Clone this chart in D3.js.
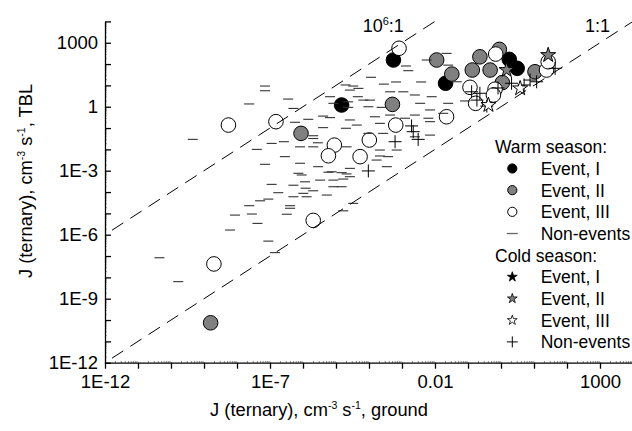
<!DOCTYPE html>
<html>
<head>
<meta charset="utf-8">
<script src="https://cdn.jsdelivr.net/npm/d3@7"></script>
<style>
  body { margin: 0; background: #fff; }
  svg { display: block; font-family: "Liberation Sans", Arial, sans-serif; }
</style>
</head>
<body>
<svg id="chart" width="632" height="431"></svg>
<script>
// all values are log10(J): [ground, TBL]
const warmEventI = [[-3.26, 2.19], [-4.83, 0.08], [-1.68, 1.10], [0.25, 2.22], [0.49, 1.80]];
const warmEventII = [[-6.06, -1.25], [-8.80, -10.13], [-3.29, 0.11], [-1.95, 2.19], [-1.49, 1.53],
  [-0.64, 2.34], [-0.05, 2.69], [-0.33, 1.72], [-0.87, 1.72], [0.04, 1.13], [1.03, 1.64]];
const warmEventIII = [[-8.26, -0.86], [-6.82, -0.70], [-5.05, -1.80], [-5.23, -2.30], [-4.27, -2.34],
  [-8.70, -7.37], [-5.69, -5.33], [-3.09, 2.74], [-3.99, -1.56], [-3.19, -0.86], [-1.65, -0.47],
  [-0.16, 2.47], [-0.18, 0.82], [-0.23, 0.55], [-0.94, 0.91], [-0.77, 0.16], [1.38, 1.72], [1.43, 2.11]];
const warmNonEvents = [
  [-7.15, 0.97], [-7.15, 0.75], [-7.63, 0.13], [-6.45, 0.36], [-6.29, -0.08], [-6.24, -0.73],
  [-5.69, -1.36], [-5.69, -1.49], [-9.34, -1.53], [-5.39, -0.44], [-5.18, -0.51], [-5.39, -0.98],
  [-4.70, -1.01], [-5.55, -1.69], [-6.09, -1.88], [-7.40, -2.00], [-6.95, -1.72], [-6.58, -1.64],
  [-6.55, -2.34], [-7.15, -2.70], [-6.14, -3.12], [-5.23, -3.07], [-4.68, -3.15], [-4.58, -2.89],
  [-4.78, -3.39], [-6.95, -3.64], [-6.29, -3.68], [-5.92, -3.82], [-5.69, -3.94], [-6.75, -4.03],
  [-7.05, -4.33], [-6.29, -4.22], [-4.71, 1.02], [-4.48, 0.97], [-4.58, 0.78], [-4.34, 0.47],
  [-4.37, -0.86], [-2.88, 1.91], [-2.81, 1.69], [-1.65, 2.50], [-2.25, 2.19], [-1.60, 1.95],
  [-1.34, 1.17], [-3.94, 1.38], [-4.32, 0.86], [-5.18, 0.47], [-5.08, 0.16], [-4.63, 0.23],
  [-4.63, -0.03], [-4.17, 0.31], [-3.97, 0.31], [-4.02, 0.00], [-3.62, -0.03], [-3.36, 0.70],
  [-2.96, 0.70], [-2.61, 0.55], [-2.10, 0.47], [-2.45, 0.16], [-2.15, -0.15], [-1.60, 0.16],
  [-1.09, 0.27], [-1.75, -0.31], [-5.84, -0.59], [-4.58, -0.62], [-3.82, -0.47], [-3.67, -0.78],
  [-3.36, -0.39], [-2.91, -0.54], [-2.61, -0.39], [-2.20, -0.54], [-2.15, -0.70], [-4.02, -1.25],
  [-3.57, -1.25], [-5.69, -1.88], [-4.68, -1.88], [-3.67, -2.03], [-2.61, -1.41], [-2.15, -1.33],
  [-6.09, -2.65], [-5.54, -2.81], [-3.77, -2.50], [-3.42, -2.34], [-3.46, -2.81], [-5.94, -3.52],
  [-5.48, -3.44], [-4.58, -3.28], [-4.83, -3.75], [-5.89, -4.22], [-5.28, -4.14], [-3.67, -2.31],
  [-3.16, -2.03], [-5.08, -3.44], [-5.13, -3.05], [-4.83, -3.09], [-5.99, -4.06], [-6.04, -3.20],
  [-10.35, -7.08], [-9.78, -8.20], [-8.21, -5.78], [-8.06, -5.08], [-7.55, -5.03], [-7.63, -4.64],
  [-7.38, -5.47], [-7.30, -4.41], [-7.05, -6.30], [-6.85, -6.84], [-6.49, -5.04], [-6.39, -4.64],
  [-6.39, -4.76], [-5.08, -3.75], [-4.78, -4.88], [-4.48, -4.53], [-3.55, 1.06], [-3.18, 1.16],
  [-2.42, 1.16]];
const coldEventI = [];
const coldEventII = [[0.17, 1.72], [1.43, 2.42]];
const coldEventIII = [[0.58, 0.86], [-0.38, 0.08]];
const coldNonEvents = [[-0.89, 0.70], [-0.64, 0.63], [-0.43, 0.03], [0.32, 1.10], [0.88, 1.25],
  [1.08, 1.17], [1.64, 1.80], [-2.71, -0.90], [-2.66, -1.17], [-2.51, -1.53], [-3.21, -1.64],
  [-4.02, -3.01], [-0.73, 0.31], [-0.09, 0.88], [0.70, 1.02]];

const xTickValues = [1e-12, 1e-7, 1e-2, 1e3];
const xTickLabels = ["1E-12", "1E-7", "0.01", "1000"];
const yTickValues = [1e-12, 1e-9, 1e-6, 1e-3, 1, 1e3];
const yTickLabels = ["1E-12", "1E-9", "1E-6", "1E-3", "1", "1000"];
const ratios = [1e6, 1];

const svg = d3.select("#chart");
const x = d3.scaleLog().domain([1e-12, 1e4]).range([105, 633]);
const y = d3.scaleLog().domain([1e-12, 1e4]).range([362.7, 21.4]);
const px = d => x(10 ** d[0]), py = d => y(10 ** d[1]);

const decades = d3.range(-12, 5).map(e => 10 ** e);
const minors = [];
d3.range(-12, 4).forEach(e => { for (let k = 2; k <= 9; k++) minors.push(k * 10 ** e); });

// minor ticks
svg.append("g").attr("transform", "translate(0,362.7)")
  .call(d3.axisBottom(x).tickValues(minors).tickSizeInner(-1.5).tickSizeOuter(0).tickFormat(""))
  .call(g => g.select(".domain").remove())
  .selectAll("line").attr("stroke", "#444").attr("stroke-width", 0.8);
svg.append("g").attr("transform", "translate(105,0)")
  .call(d3.axisLeft(y).tickValues(minors).tickSizeInner(-1.5).tickSizeOuter(0).tickFormat(""))
  .call(g => g.select(".domain").remove())
  .selectAll("line").attr("stroke", "#444").attr("stroke-width", 0.8);

// major axes
const labelFor = (vals, labels) => v => {
  const i = vals.findIndex(t => Math.abs(Math.log10(t) - Math.log10(v)) < 1e-6);
  return i >= 0 ? labels[i] : "";
};
const xAxis = svg.append("g").attr("transform", "translate(0,362.7)")
  .call(d3.axisBottom(x).tickValues(decades).tickSizeInner(6).tickSizeOuter(0).tickPadding(6)
    .tickFormat(labelFor(xTickValues, xTickLabels)));
const yAxis = svg.append("g").attr("transform", "translate(105,0)")
  .call(d3.axisLeft(y).tickValues(decades).tickSizeInner(-6).tickSizeOuter(0).tickPadding(7)
    .tickFormat(labelFor(yTickValues, yTickLabels)));
[xAxis, yAxis].forEach(g => {
  g.attr("font-family", null).attr("font-size", null);
  g.selectAll("text").attr("font-size", 18.5).attr("fill", "#000");
  g.selectAll("line,path").attr("stroke", "#000").attr("stroke-width", 1.3);
});

// markers
const plot = svg.append("g");
[[warmEventI, "#000"], [warmEventII, "#808080"], [warmEventIII, "#fff"]].forEach(([data, fill]) => {
  plot.append("g").selectAll("circle").data(data).join("circle")
    .attr("cx", px).attr("cy", py).attr("r", 7.3)
    .attr("fill", fill).attr("stroke", "#000").attr("stroke-width", 1);
});
plot.append("g").selectAll("line").data(warmNonEvents).join("line")
  .attr("x1", d => px(d) - 5).attr("x2", d => px(d) + 5)
  .attr("y1", py).attr("y2", py)
  .attr("stroke", "#333").attr("stroke-width", 1.1);
plot.append("g").selectAll("path").data(coldNonEvents).join("path")
  .attr("d", d => `M${px(d) - 6.5},${py(d)}H${px(d) + 6.5}M${px(d)},${py(d) - 6.5}V${py(d) + 6.5}`)
  .attr("stroke", "#000").attr("stroke-width", 1);
const star = d3.symbol().type(d3.symbolStar);
[[coldEventI, "#000"], [coldEventII, "#808080"], [coldEventIII, "#fff"]].forEach(([data, fill]) => {
  plot.append("g").selectAll("path").data(data).join("path")
    .attr("transform", d => `translate(${px(d)},${py(d)})`)
    .attr("d", star.size(70)())
    .attr("fill", fill).attr("stroke", "#000").attr("stroke-width", 1);
});

// ratio lines
ratios.forEach(r => {
  const x0 = 1e-12, x1 = Math.min(1e4, 1e4 / r);
  svg.append("line")
    .attr("x1", x(x0)).attr("y1", y(x0 * r)).attr("x2", x(x1)).attr("y2", y(x1 * r))
    .attr("stroke", "#000").attr("stroke-width", 1)
    .attr("stroke-dasharray", "13.5,8.3").attr("stroke-dashoffset", 13.5);
});
const ann = svg.append("g").attr("font-size", 18);
const t6 = ann.append("text").attr("x", 362.7).attr("y", 31.7);
t6.append("tspan").text("10");
t6.append("tspan").attr("dy", -7).attr("font-size", 11).text("6");
t6.append("tspan").attr("dy", 7).text(":1");
ann.append("text").attr("x", 585).attr("y", 31.7).text("1:1");

// axis titles
function title(sel, tail) {
  sel.append("tspan").text("J (ternary), cm");
  sel.append("tspan").attr("dy", -7).attr("font-size", 10.5).text("-3");
  sel.append("tspan").attr("dy", 7).text(" s");
  sel.append("tspan").attr("dy", -7).attr("font-size", 10.5).text("-1");
  sel.append("tspan").attr("dy", 7).text(tail);
}
title(svg.append("text").attr("x", 319).attr("y", 415.5).attr("text-anchor", "middle").attr("font-size", 18.3), ", ground");
title(svg.append("text").attr("transform", "translate(31.5,181) rotate(-90)")
  .attr("text-anchor", "middle").attr("font-size", 18.3), ", TBL");

// legend
const legendRows = [
  { head: "Warm season:" },
  { label: "Event, I", kind: "circle", fill: "#000" },
  { label: "Event, II", kind: "circle", fill: "#808080" },
  { label: "Event, III", kind: "circle", fill: "#fff" },
  { label: "Non-events", kind: "dash" },
  { head: "Cold season:" },
  { label: "Event, I", kind: "star", fill: "#000" },
  { label: "Event, II", kind: "star", fill: "#808080" },
  { label: "Event, III", kind: "star", fill: "#fff" },
  { label: "Non-events", kind: "plus" }
];
const lg = svg.append("g").attr("font-size", 17.5);
legendRows.forEach((row, i) => {
  const by = 153.3 + i * 21.68, cy = by - 6.5, sx = 512.3;
  if (row.head) { lg.append("text").attr("x", 495).attr("y", by).text(row.head); return; }
  lg.append("text").attr("x", 540.7).attr("y", by).text(row.label);
  if (row.kind === "circle") lg.append("circle").attr("cx", sx).attr("cy", cy).attr("r", 4.6)
    .attr("fill", row.fill).attr("stroke", "#000").attr("stroke-width", 1);
  if (row.kind === "dash") lg.append("line").attr("x1", sx - 5.5).attr("x2", sx + 5.5).attr("y1", cy).attr("y2", cy)
    .attr("stroke", "#666").attr("stroke-width", 1.3);
  if (row.kind === "star") lg.append("path").attr("transform", `translate(${sx},${cy})`)
    .attr("d", star.size(30)()).attr("fill", row.fill).attr("stroke", "#000").attr("stroke-width", 0.8);
  if (row.kind === "plus") lg.append("path")
    .attr("d", `M${sx - 5.5},${cy}H${sx + 5.5}M${sx},${cy - 5.5}V${cy + 5.5}`)
    .attr("stroke", "#000").attr("stroke-width", 1);
});
</script>
</body>
</html>
